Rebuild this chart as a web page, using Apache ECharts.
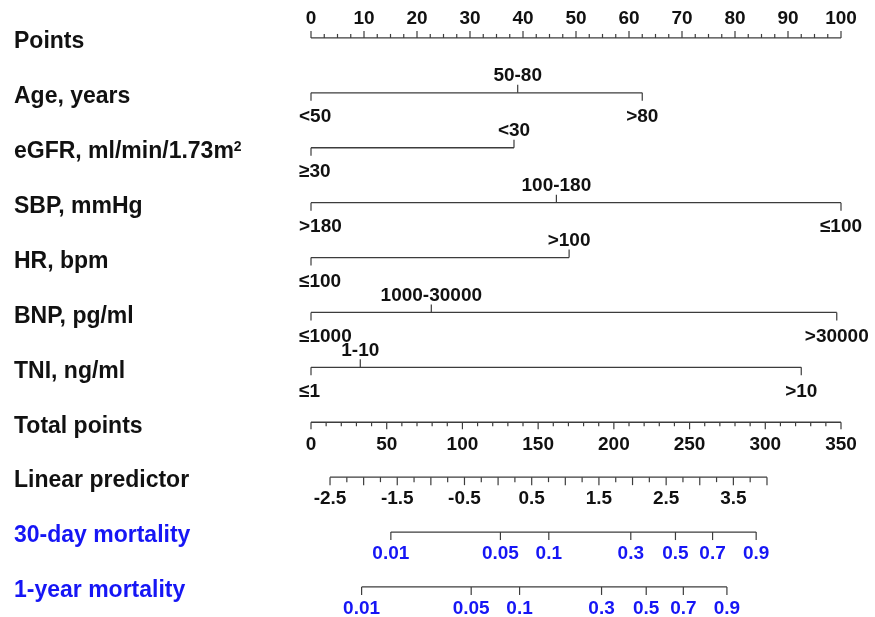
<!DOCTYPE html>
<html><head><meta charset="utf-8">
<script src="https://cdn.jsdelivr.net/npm/echarts@6/dist/echarts.min.js"></script>
<style>html,body{margin:0;padding:0;background:#fff}#c{width:875px;height:617px}</style>
</head><body><div id="c"></div>
<script>
// ---------------- data ----------------
const rowTitles = ['Points','Age, years','eGFR, ml/min/1.73m²','SBP, mmHg','HR, bpm','BNP, pg/ml','TNI, ng/ml','Total points','Linear predictor','30-day mortality','1-year mortality'];

const pointsLabels = [0,10,20,30,40,50,60,70,80,90,100];
const pointsMinorStep = 2.5;

const ageLevels = ['<50','50-80','>80'];
const agePoints = [0, 39.0, 62.5];
const egfrLevels = ['≥30','<30'];
const egfrPoints = [0, 38.3];
const sbpLevels = ['>180','100-180','≤100'];
const sbpPoints = [0, 46.3, 100];
const hrLevels = ['≤100','>100'];
const hrPoints = [0, 48.7];
const bnpLevels = ['≤1000','1000-30000','>30000'];
const bnpPoints = [0, 22.7, 99.2];
const tniLevels = ['≤1','1-10','>10'];
const tniPoints = [0, 9.3, 92.5];

const totalLabels = [0,50,100,150,200,250,300,350];
const totalMinorStep = 10;

const lpLabels = [-2.5,-1.5,-0.5,0.5,1.5,2.5,3.5];
const lpRange = [-2.5, 4.0];
const lpTickStep = 0.25;
// linear predictor at total points 0 and 350 (model scaling)
const lpAtTotal0 = -2.783, lpAtTotal350 = 5.101;

const mortTicks = [0.01,0.05,0.1,0.3,0.5,0.7,0.9];
const mort30Offset = 3.005;   // LP = cloglog(p) + offset
const mort1yOffset = 2.57;

// ---------------- styling ----------------
const FONT = '"Liberation Sans", Arial, Helvetica, sans-serif';
const LINE_COLOR = '#3c3c3c';
const TEXT_COLOR = '#111111';
const BLUE = '#1616f5';
const TICK_FS = 19;
const TITLE_FS = 23;

const series = [];

function lineSeries(row, ax, a, b) {
  series.push({type:'line', xAxisIndex:ax, yAxisIndex:ax, data:[[a,row],[b,row]],
    showSymbol:false, symbol:'none', silent:true, animation:false,
    lineStyle:{color:LINE_COLOR, width:1.3}});
}
function tickSeries(row, ax, items) {
  series.push({
    type:'custom', xAxisIndex:ax, yAxisIndex:ax, silent:true, animation:false, clip:false,
    data: items.map(it => [it.v, row]),
    renderItem: (params, api) => {
      const it = items[params.dataIndex];
      const p = api.coord([api.value(0), api.value(1)]);
      const d = it.up ? -1 : 1;
      const ch = [{type:'line', shape:{x1:p[0], y1:p[1], x2:p[0], y2:p[1] + d*it.len},
        style:{stroke:LINE_COLOR, lineWidth:1.2}}];
      if (it.label != null) {
        ch.push({type:'text', x:p[0] + (it.dx || 0), y:p[1] + d*it.off,
          style:{text:String(it.label), fill:it.color || TEXT_COLOR, fontSize:TICK_FS,
            fontWeight:'bold', fontFamily:FONT, align:it.align || 'center', verticalAlign:'middle'}});
      }
      return {type:'group', children:ch};
    }
  });
}

// Row 0: Points
(function(){
  lineSeries(0, 0, pointsLabels[0], pointsLabels[pointsLabels.length-1]);
  const items = [];
  for (let v = pointsLabels[0]; v <= pointsLabels[pointsLabels.length-1] + 1e-9; v += pointsMinorStep) {
    const major = pointsLabels.some(l => Math.abs(l - v) < 1e-9);
    items.push({v, up:true, len: major ? 7 : 4, label: major ? v : null, off: 19});
  }
  tickSeries(0, 0, items);
})();

// Rows 1-6: categorical predictors
function catRow(row, levels, pts) {
  const order = levels.map((_, i) => i).sort((a, b) => pts[a] - pts[b]);
  lineSeries(row, 0, pts[order[0]], pts[order[order.length-1]]);
  const items = order.map((i, k) => ({
    v: pts[i], label: levels[i], up: k % 2 === 1, len: 8,
    off: k % 2 === 1 ? 17 : 24,
    align: k === 0 ? 'left' : 'center', dx: k === 0 ? -12 : 0
  }));
  tickSeries(row, 0, items);
}
catRow(1, ageLevels, agePoints);
catRow(2, egfrLevels, egfrPoints);
catRow(3, sbpLevels, sbpPoints);
catRow(4, hrLevels, hrPoints);
catRow(5, bnpLevels, bnpPoints);
catRow(6, tniLevels, tniPoints);

// Row 7: Total points
(function(){
  const a = totalLabels[0], b = totalLabels[totalLabels.length-1];
  lineSeries(7, 1, a, b);
  const items = [];
  for (let v = a; v <= b + 1e-9; v += totalMinorStep) {
    const major = totalLabels.some(l => Math.abs(l - v) < 1e-9);
    items.push({v, up:false, len: major ? 7 : 4, label: major ? v : null, off: 23});
  }
  tickSeries(7, 1, items);
})();

// Row 8: Linear predictor
(function(){
  lineSeries(8, 2, lpRange[0], lpRange[1]);
  const items = [];
  const n = Math.round((lpRange[1] - lpRange[0]) / lpTickStep);
  for (let k = 0; k <= n; k++) {
    const v = lpRange[0] + k * lpTickStep;
    const half = k % 2 === 0;
    const lab = lpLabels.find(l => Math.abs(l - v) < 1e-9);
    items.push({v, up:false, len: half ? 8 : 5, label: lab != null ? lab.toFixed(1) : null, off: 22});
  }
  tickSeries(8, 2, items);
})();

// Rows 9-10: mortality
function mortRow(row, offset) {
  const pos = mortTicks.map(p => Math.log(-Math.log(1 - p)) + offset);
  lineSeries(row, 2, pos[0], pos[pos.length-1]);
  tickSeries(row, 2, mortTicks.map((p, i) => ({v: pos[i], up:false, len:8, label:String(p), off:22, color:BLUE})));
}
mortRow(9, mort30Offset);
mortRow(10, mort1yOffset);

// ---------------- layout ----------------
const gridBox = {left:311, right:34, top:10.5, bottom:2.6};
const xRanges = [[0,100],[0,350],[lpAtTotal0, lpAtTotal350]];
const grids = xRanges.map(() => Object.assign({}, gridBox));
const xAxes = xRanges.map((r, i) => ({gridIndex:i, type:'value', min:r[0], max:r[1], show:false}));
const yAxes = xRanges.map((r, i) => ({
  gridIndex:i, type:'category', data:rowTitles, inverse:true, show: i === 0,
  axisLine:{show:false}, axisTick:{show:false}, splitLine:{show:false},
  axisLabel:{
    margin:297, align:'left', padding:[8,0,0,0],
    formatter:(val, idx) => {
      const st = idx >= 9 ? 'b' : 'k';
      return '{' + st + '|' + val.replace('²', '}{s|2}{' + st + '|') + '}';
    },
    rich:{
      k:{fontSize:TITLE_FS, fontWeight:'bold', fontFamily:FONT, color:TEXT_COLOR},
      b:{fontSize:TITLE_FS, fontWeight:'bold', fontFamily:FONT, color:BLUE},
      s:{fontSize:14, fontWeight:'bold', fontFamily:FONT, color:TEXT_COLOR, verticalAlign:'top', padding:[0,0,9,0]}
    }
  }
}));

const chart = echarts.init(document.getElementById('c'), null, {renderer:'canvas'});
chart.setOption({
  backgroundColor:'#ffffff', animation:false,
  grid:grids, xAxis:xAxes, yAxis:yAxes, series:series
});
</script>
</body></html>
